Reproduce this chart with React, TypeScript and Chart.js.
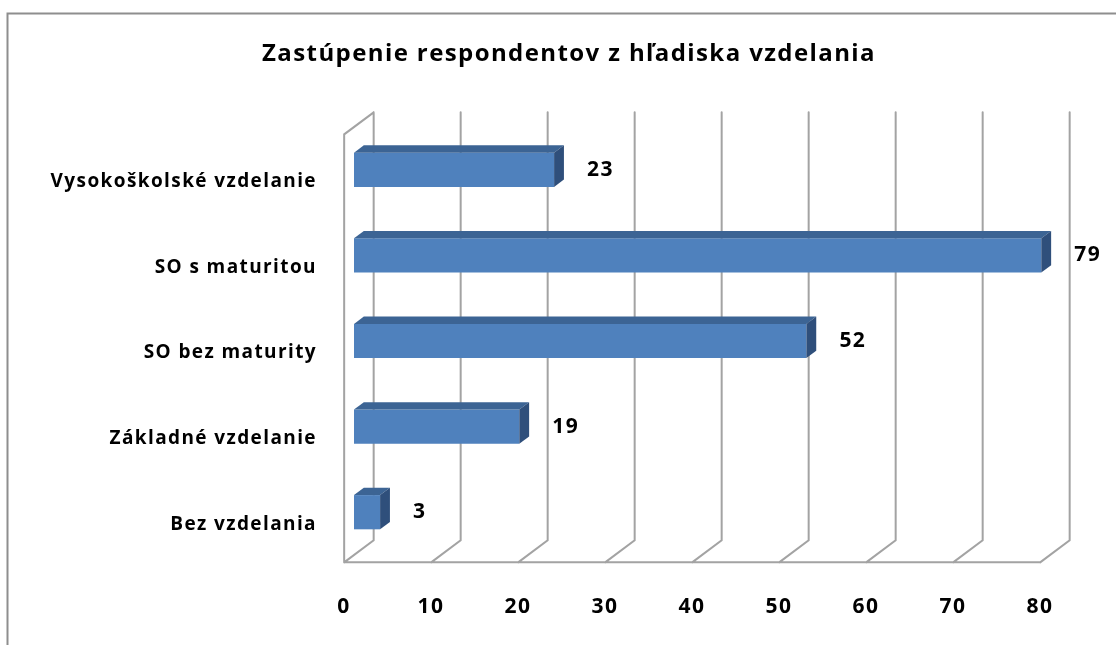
import React, { useEffect, useRef } from "react";
import { Chart, registerables } from "chart.js";

Chart.register(...registerables);

// ---- data ----
const TITLE = "Zastúpenie respondentov z hľadiska vzdelania";
const CATEGORIES = [
  "Vysokoškolské vzdelanie",
  "SO s maturitou",
  "SO bez maturity",
  "Základné vzdelanie",
  "Bez vzdelania",
];
const VALUES = [23, 79, 52, 19, 3];
const X_MIN = 0;
const X_MAX = 80;
const X_STEP = 10;

// ---- style ----
const FONT = "'Open Sans', 'DejaVu Sans', sans-serif";
const LETTER_SPACING = "1.4px";
const BAR_FRONT = "#4F81BD";
const BAR_TOP = "#3C6494";
const BAR_SIDE = "#2F4F7B";
const GRID = "#a3a3a3";
const FRAME = "#8e8e8e";
const DEPTH_X = 29.5;
const DEPTH_Y = 22;

const threeD = {
  id: "threeD",
  beforeDraw(chart: any) {
    const { ctx, width, height } = chart;
    ctx.save();
    ctx.fillStyle = "#ffffff";
    ctx.fillRect(0, 0, width, height);
    ctx.strokeStyle = FRAME;
    ctx.lineWidth = 2;
    ctx.beginPath();
    ctx.moveTo(7.5, height);
    ctx.lineTo(7.5, 13.5);
    ctx.lineTo(width, 13.5);
    ctx.stroke();
    ctx.restore();
    // wider letter spacing like the original rendering, used by all text drawn afterwards
    (ctx as any).letterSpacing = LETTER_SPACING;
    // chart title
    ctx.save();
    ctx.fillStyle = "#000";
    ctx.font = `bold 24px ${FONT}`;
    ctx.textAlign = "center";
    ctx.textBaseline = "middle";
    ctx.fillText(TITLE, 569, 54.5);
    ctx.restore();
  },
  beforeDatasetsDraw(chart: any) {
    const { ctx, chartArea } = chart;
    const xs = chart.scales.x;
    const { top, bottom } = chartArea;
    const fx = -DEPTH_X / 3, fy = DEPTH_Y / 3;
    const bx = (2 * DEPTH_X) / 3, by = (-2 * DEPTH_Y) / 3;
    const p0 = xs.getPixelForValue(X_MIN);
    const p1 = xs.getPixelForValue(X_MAX);
    ctx.save();
    ctx.strokeStyle = GRID;
    ctx.lineWidth = 2;
    ctx.lineCap = "round";
    ctx.beginPath();
    for (const t of xs.ticks) {
      const p = xs.getPixelForValue(t.value);
      ctx.moveTo(p + bx, top + by);
      ctx.lineTo(p + bx, bottom + by);
      ctx.lineTo(p + fx, bottom + fy);
    }
    ctx.moveTo(p0 + fx, bottom + fy);
    ctx.lineTo(p1 + fx, bottom + fy);
    ctx.moveTo(p0 + fx, bottom + fy);
    ctx.lineTo(p0 + fx, top + fy);
    ctx.lineTo(p0 + bx, top + by);
    ctx.stroke();
    ctx.restore();
  },
  afterDatasetsDraw(chart: any) {
    const { ctx } = chart;
    const meta = chart.getDatasetMeta(0);
    const dx = DEPTH_X / 3, dy = DEPTH_Y / 3;
    ctx.save();
    meta.data.forEach((el: any, i: number) => {
      const { x, y, base, height } = el.getProps(["x", "y", "base", "height"], true);
      const t = y - height / 2;
      const b = y + height / 2;
      ctx.fillStyle = BAR_TOP;
      ctx.beginPath();
      ctx.moveTo(base, t);
      ctx.lineTo(base + dx, t - dy);
      ctx.lineTo(x + dx, t - dy);
      ctx.lineTo(x, t);
      ctx.closePath();
      ctx.fill();
      ctx.fillStyle = BAR_SIDE;
      ctx.beginPath();
      ctx.moveTo(x, t);
      ctx.lineTo(x + dx, t - dy);
      ctx.lineTo(x + dx, b - dy);
      ctx.lineTo(x, b);
      ctx.closePath();
      ctx.fill();
      ctx.fillStyle = "#000";
      ctx.font = `bold 21px ${FONT}`;
      ctx.textAlign = "left";
      ctx.textBaseline = "middle";
      ctx.fillText(String(VALUES[i]), x + 33, y);
    });
    ctx.restore();
  },
};

export default function App() {
  const ref = useRef<HTMLCanvasElement | null>(null);
  useEffect(() => {
    if (!ref.current) return;
    const chart = new Chart(ref.current, {
      type: "bar",
      data: {
        labels: CATEGORIES,
        datasets: [
          {
            data: VALUES,
            backgroundColor: BAR_FRONT,
            borderWidth: 0,
            categoryPercentage: 1,
            barPercentage: 0.4,
          },
        ],
      },
      options: {
        indexAxis: "y",
        responsive: false,
        animation: false,
        devicePixelRatio: 1,
        layout: { padding: { left: 0, right: 66, top: 127, bottom: 0 } },
        plugins: {
          legend: { display: false },
          tooltip: { enabled: false },
          title: { display: false },
        },
        scales: {
          x: {
            type: "linear",
            min: X_MIN,
            max: X_MAX,
            ticks: {
              stepSize: X_STEP,
              labelOffset: -10,
              padding: 39,
              color: "#000",
              font: { family: FONT, size: 21, weight: "bold" },
            },
            grid: { display: false, drawTicks: false },
            border: { display: false },
            afterFit: (s: any) => {
              s.height = 90;
            },
          },
          y: {
            type: "category",
            offset: true,
            ticks: {
              labelOffset: 12,
              padding: 37,
              color: "#000",
              font: { family: FONT, size: 19, weight: "bold" },
            },
            grid: { display: false, drawTicks: false },
            border: { display: false },
            afterFit: (s: any) => {
              s.width = 354;
            },
          },
        },
      },
      plugins: [threeD],
    });
    return () => chart.destroy();
  }, []);
  return (
    <div style={{ position: "absolute", left: 0, top: 0, width: 1116, height: 645 }}>
      <canvas ref={ref} width={1116} height={645} style={{ display: "block" }} />
    </div>
  );
}
